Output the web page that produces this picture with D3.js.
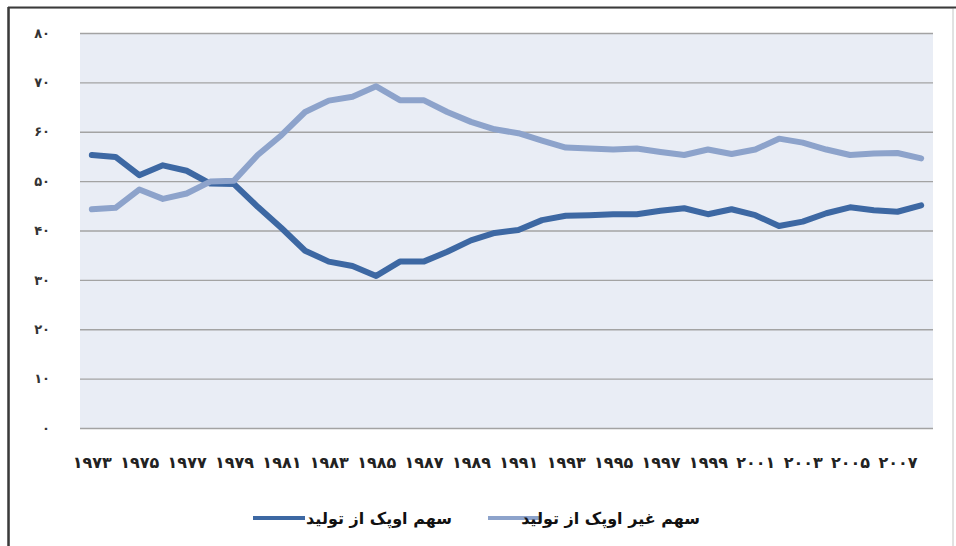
<!DOCTYPE html>
<html><head><meta charset="utf-8">
<script src="https://cdn.jsdelivr.net/npm/d3@7"></script>
<style>html,body{margin:0;padding:0;background:#fff;}svg{display:block;}</style>
</head><body>
<svg id="chart" width="956" height="546"></svg>
<script>
const years = d3.range(1973, 2009);
const opecShare = [55.3,54.9,51.2,53.2,52.1,49.5,49.4,44.8,40.5,35.9,33.7,32.8,30.8,33.7,33.7,35.7,38.0,39.5,40.1,42.1,43.0,43.1,43.3,43.3,44.0,44.5,43.3,44.3,43.1,40.9,41.8,43.5,44.7,44.1,43.8,45.1];
const nonOpecShare = [44.3,44.6,48.3,46.4,47.5,49.9,50.1,55.3,59.3,64.0,66.3,67.1,69.2,66.4,66.4,64.0,62.0,60.5,59.7,58.2,56.8,56.6,56.4,56.6,55.9,55.3,56.4,55.5,56.4,58.6,57.8,56.4,55.3,55.6,55.7,54.6];
const yTicks = [0,10,20,30,40,50,60,70,80];
const xTickYears = d3.range(1973, 2008, 2);
const seriesNames = ["سهم اوپک از تولید", "سهم غیر اوپک از تولید"];

const fa = n => String(n).replace(/\d/g, d => "۰۱۲۳۴۵۶۷۸۹"[+d]);

const svg = d3.select("#chart");
const L = 80, R = 933, T = 33, B = 428;

// frame
svg.append("rect").attr("x",9).attr("y",8).attr("width",944).attr("height",540)
  .attr("fill","#fff").attr("stroke","#d8d8d8").attr("stroke-width",1.5);
svg.append("line").attr("x1",8).attr("x2",956).attr("y1",7.5).attr("y2",7.5).attr("stroke","#3a3a3a").attr("stroke-width",2);
svg.append("line").attr("x1",8.5).attr("x2",8.5).attr("y1",7).attr("y2",546).attr("stroke","#3a3a3a").attr("stroke-width",2.5);

const x = d3.scalePoint().domain(years).range([L, R]).padding(0.5);
const y = d3.scaleLinear().domain([0, 80]).range([B, T]);

svg.append("rect").attr("x",L).attr("y",T).attr("width",R-L).attr("height",B-T).attr("fill","#e9edf5");

// y axis grid + labels
const yAxis = d3.axisLeft(y).tickValues(yTicks).tickSize(-(R-L)).tickPadding(30).tickFormat(fa);
const gy = svg.append("g").attr("transform",`translate(${L},0)`).call(yAxis);
gy.select(".domain").remove();
gy.selectAll(".tick line").attr("stroke","#a3a3a3").attr("stroke-width",1.3);
gy.selectAll(".tick text").attr("font-family","DejaVu Sans, sans-serif").attr("font-size",13).attr("font-weight","bold").attr("fill","#333");

// x axis labels
const xAxis = d3.axisBottom(x).tickValues(xTickYears).tickSize(0).tickPadding(29).tickFormat(fa);
const gx = svg.append("g").attr("transform",`translate(0,${B})`).call(xAxis);
gx.select(".domain").remove();
gx.selectAll(".tick text").attr("font-family","DejaVu Sans, sans-serif").attr("font-size",16).attr("font-weight","bold").attr("fill","#222");

const line = d3.line().x((d,i)=>x(years[i])).y(d=>y(d));
const colors = ["#3d68a3", "#8da3cb"];
[opecShare, nonOpecShare].forEach((s,k)=>{
  svg.append("path").datum(s).attr("d",line).attr("fill","none")
    .attr("stroke",colors[k]).attr("stroke-width",6).attr("stroke-linejoin","round").attr("stroke-linecap","round");
});

// legend
const leg = [{x1:253,x2:305,tx:452},{x1:488,x2:540,tx:700}];
leg.forEach((p,k)=>{
  svg.append("line").attr("x1",p.x1).attr("x2",p.x2).attr("y1",518).attr("y2",518)
    .attr("stroke",colors[k]).attr("stroke-width",4);
  svg.append("text").attr("x",p.tx).attr("y",524).attr("text-anchor","end")
    .attr("font-family","DejaVu Sans, sans-serif").attr("font-size",16).attr("font-weight","bold").attr("fill","#111")
    .text(seriesNames[k]);
});
</script>
</body></html>
